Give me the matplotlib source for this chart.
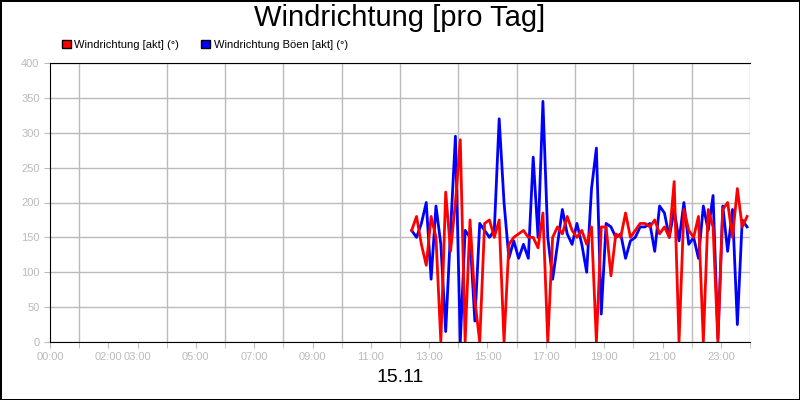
import matplotlib.pyplot as plt
import numpy as np

plt.rcParams['font.family'] = 'Liberation Sans'

# Zeit in Stunden (10-Minuten-Werte ab 12:24)
stunden = 12.4 + np.arange(70) / 6.0
wind_akt = [160, 180, 140, 110, 180, 150, 0, 215, 130, 200,
            290, 0, 175, 60, 0, 170, 175, 150, 175, 0,
            140, 150, 155, 160, 150, 150, 135, 185, 0, 150,
            165, 155, 180, 160, 150, 160, 140, 165, 0, 165,
            165, 95, 155, 150, 185, 150, 160, 170, 170, 165,
            175, 155, 165, 150, 230, 0, 190, 160, 150, 180,
            0, 190, 165, 0, 190, 200, 150, 220, 165, 180]
wind_boeen = [160, 150, 170, 200, 90, 195, 140, 15, 160, 295,
              0, 160, 150, 30, 170, 160, 150, 160, 320, 200,
              120, 145, 120, 140, 120, 265, 150, 345, 150, 90,
              140, 190, 155, 140, 170, 140, 100, 220, 278, 40,
              170, 165, 150, 155, 120, 145, 150, 165, 165, 170,
              130, 195, 185, 150, 190, 145, 200, 140, 150, 120,
              195, 160, 210, 5, 195, 130, 190, 25, 175, 165]
tick_pos = [0, 2, 3, 5, 7, 9, 11, 13, 15, 17, 19, 21, 23]
tick_lab = ['%02d:00' % h for h in tick_pos]

fig = plt.figure(figsize=(8, 4), dpi=100)
fig.patch.set_edgecolor('black')
fig.patch.set_linewidth(2)
ax = fig.add_axes([0.0625, 0.145, 0.875, 0.6975])

ax.plot(stunden, wind_boeen, color='#0000ff', lw=2, label='Windrichtung Böen [akt] (°)')
ax.plot(stunden, wind_akt, color='#ff0000', lw=2, label='Windrichtung [akt] (°)')

ax.set_xlim(0, 24)
ax.set_ylim(0, 400)
ax.set_yticks(range(0, 401, 50))
ax.set_xticks(tick_pos)
ax.set_xticklabels(tick_lab)
ax.set_xticks(range(0, 25), minor=True)
ax.grid(True, which='minor', axis='x', color='#bbbbbb', lw=1)
ax.grid(True, which='major', axis='y', color='#bbbbbb', lw=1)
ax.tick_params(colors='#bbbbbb', labelsize=8, which='both', length=4)
ax.tick_params(axis='x', which='minor', length=4)
for s in ['right']:
    ax.spines[s].set_visible(False)
for s in ['left', 'bottom', 'top']:
    ax.spines[s].set_color('black')
ax.set_axisbelow(True)

fig.text(0.5, 0.955, 'Windrichtung [pro Tag]', ha='center', va='center', fontsize=21)
fig.text(0.5, 0.055, '15.11', ha='center', va='center', fontsize=14)

h, l = ax.get_legend_handles_labels()
from matplotlib.patches import Patch
hand = [Patch(facecolor='red', edgecolor='black'), Patch(facecolor='blue', edgecolor='black')]
fig.legend(hand, ['Windrichtung [akt] (°)', 'Windrichtung Böen [akt] (°)'],
           loc='center left', bbox_to_anchor=(0.065, 0.888), ncol=2, frameon=False,
           fontsize=8, handlelength=0.8, handleheight=0.8, handletextpad=0.3, columnspacing=2)

fig.savefig('out.png')
